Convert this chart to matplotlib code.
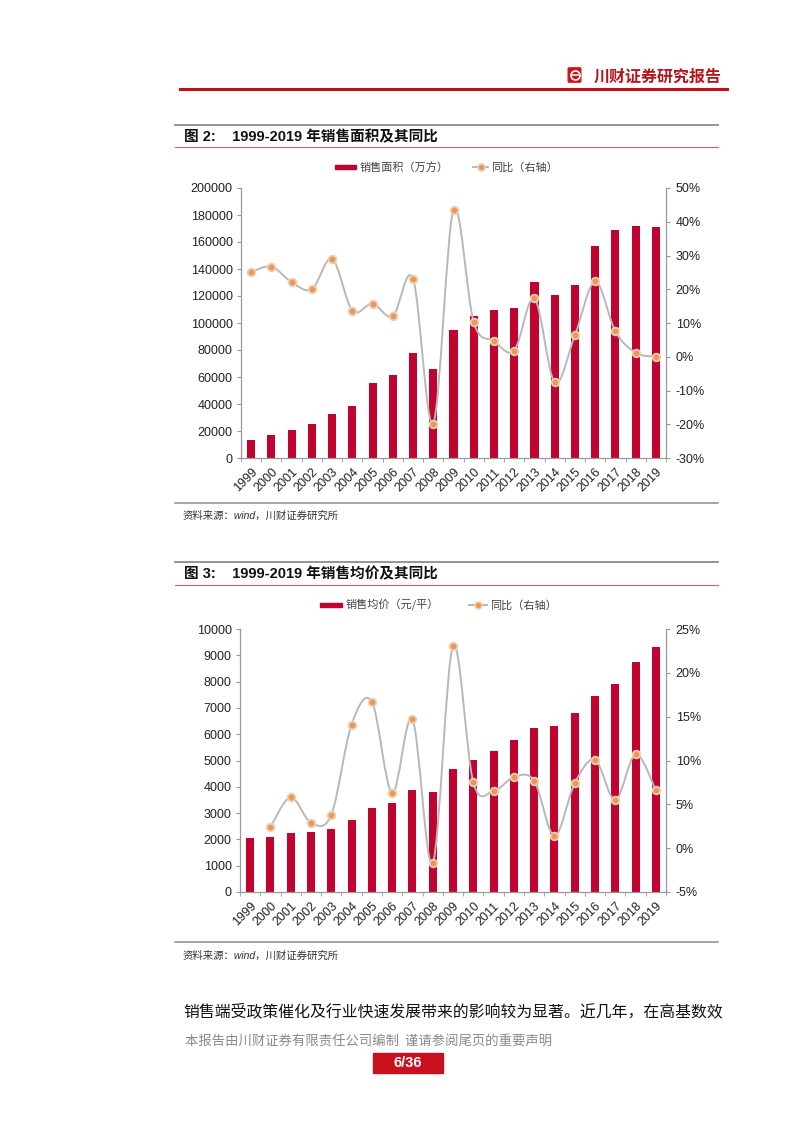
import matplotlib
matplotlib.use("Agg")
import matplotlib.pyplot as plt
from matplotlib.path import Path
from matplotlib.patches import PathPatch, Rectangle, FancyBboxPatch
from matplotlib.lines import Line2D
from matplotlib.ticker import FuncFormatter, MultipleLocator

plt.rcParams['font.family'] = ['Liberation Sans', 'Noto Sans CJK SC', 'DejaVu Sans']

# ---------------- data ----------------
years = [str(y) for y in range(1999, 2020)]

# Fig 2: sales area (10k m2) and yoy
area = [13000, 17200, 20900, 24900, 32500, 38200, 55400, 61600, 77500, 66200,
        94700, 105000, 109500, 111300, 130400, 120700, 128500, 157000, 169200,
        171600, 171100]
area_yoy = [25.1, 26.7, 22.1, 20.0, 29.0, 13.7, 15.7, 12.0, 23.1, -19.8,
            43.6, 10.2, 4.7, 1.8, 17.3, -7.6, 6.4, 22.3, 7.5, 1.2, 0.0]

# Fig 3: average price (yuan/m2) and yoy (no yoy for 1999)
price = [2060, 2110, 2240, 2290, 2390, 2720, 3190, 3370, 3870, 3810,
         4680, 5020, 5360, 5790, 6240, 6330, 6800, 7470, 7890, 8730, 9300]
price_yoy = [None, 2.4, 5.8, 2.9, 3.8, 14.1, 16.7, 6.3, 14.7, -1.7,
             23.1, 7.5, 6.5, 8.1, 7.7, 1.4, 7.4, 10.1, 5.5, 10.7, 6.6]

W, H = 802, 1133
BAR = "#C0042F"
LINE = "#B8B8B8"
CJK = ['Noto Sans CJK SC', 'DejaVu Sans']
MIX = ['Liberation Sans', 'Noto Sans CJK SC', 'DejaVu Sans']


def fx(x):
    return x / W


def fy(y):
    return 1 - y / H


fig = plt.figure(figsize=(W / 100, H / 100), dpi=100)
fig.patch.set_facecolor("white")


def hline(x0, x1, y, color, lw):
    fig.add_artist(Line2D([fx(x0), fx(x1)], [fy(y), fy(y)], color=color, lw=lw,
                          transform=fig.transFigure))


def smooth_path(xs, ys):
    # Catmull-Rom through the points, drawn as cubic Bezier segments
    verts = [(xs[0], ys[0])]
    codes = [Path.MOVETO]
    n = len(xs)
    for i in range(n - 1):
        a = i - 1 if i > 0 else i
        d = i + 2 if i + 2 < n else i + 1
        c1 = (xs[i] + (xs[i + 1] - xs[a]) / 6, ys[i] + (ys[i + 1] - ys[a]) / 6)
        c2 = (xs[i + 1] - (xs[d] - xs[i]) / 6, ys[i + 1] - (ys[d] - ys[i]) / 6)
        verts += [c1, c2, (xs[i + 1], ys[i + 1])]
        codes += [Path.CURVE4] * 3
    return Path(verts, codes)


def draw_chart(box, bars, yoy, lmax, lstep, rmin, rmax, rstep):
    left, top, right, bottom = box
    ax = fig.add_axes([fx(left), fy(bottom), fx(right) - fx(left), (bottom - top) / H])
    x = list(range(len(years)))
    ax.bar(x, bars, width=0.4, color=BAR, zorder=2)
    ax.set_xlim(-0.5, len(years) - 0.5)
    ax.set_ylim(0, lmax)
    ax.yaxis.set_major_locator(MultipleLocator(lstep))
    ax.set_xticks(x)
    ax.set_xticklabels(years, rotation=45, ha='right', rotation_mode='anchor')
    ax.set_xticks([i - 0.5 for i in range(len(years) + 1)], minor=True)
    ax.tick_params(axis='x', which='major', length=0, pad=6, labelsize=9, labelcolor='#222222')
    ax.tick_params(axis='x', which='minor', length=3, color='#999999')
    ax.tick_params(axis='y', length=3, color='#999999', labelsize=9, labelcolor='#222222', pad=3)
    for s in ['top', 'right']:
        ax.spines[s].set_visible(False)
    for s in ['left', 'bottom']:
        ax.spines[s].set_color('#999999')
        ax.spines[s].set_linewidth(0.9)

    ax2 = ax.twinx()
    ax2.set_ylim(rmin, rmax)
    ax2.yaxis.set_major_locator(MultipleLocator(rstep))
    ax2.yaxis.set_major_formatter(FuncFormatter(lambda v, p: f"{v:.0f}%"))
    ax2.tick_params(axis='y', length=3, color='#999999', labelsize=9, labelcolor='#222222', pad=4)
    for s in ['top', 'left', 'bottom']:
        ax2.spines[s].set_visible(False)
    ax2.spines['right'].set_color('#999999')
    ax2.spines['right'].set_linewidth(0.9)

    px = [i for i, v in zip(x, yoy) if v is not None]
    py = [v for v in yoy if v is not None]
    ax2.add_patch(PathPatch(smooth_path(px, py), fill=False, edgecolor=LINE, lw=1.4, zorder=3))
    ax2.plot(px, py, ls='none', marker='o', ms=5.5, mfc='#E8995A', mec='#F3CDB0', mew=1.3, zorder=4)
    ax2.set_xlim(-0.5, len(years) - 0.5)
    return ax, ax2


def title_block(y_gray, y_title, y_red, title):
    hline(175, 718, y_gray, '#8C8C8C', 1.3)
    fig.text(fx(184), fy(y_title), title, family=MIX, fontsize=10.5, fontweight='bold',
             color='#111111', va='center', ha='left')
    hline(175, 718, y_red, '#D4606E', 0.8)


def legend(y, rx0, rx1, label1, lx0, lx1, label2):
    fig.add_artist(Rectangle((fx(rx0), fy(y + 2)), fx(rx1) - fx(rx0), 4 / H, color=BAR,
                             transform=fig.transFigure))
    fig.text(fx(rx1 + 4), fy(y), label1, family=CJK, fontsize=8, color='#444444', va='center')
    fig.add_artist(Line2D([fx(lx0), fx(lx1)], [fy(y), fy(y)], color=LINE, lw=1.4,
                          transform=fig.transFigure))
    fig.add_artist(Line2D([fx((lx0 + lx1) / 2)], [fy(y)], ls='none', marker='o', ms=5,
                          mfc='#E8995A', mec='#F3CDB0', mew=1.2, transform=fig.transFigure))
    fig.text(fx(lx1 + 3), fy(y), label2, family=CJK, fontsize=8, color='#444444', va='center')


def source(y_line, y_text):
    hline(175, 718, y_line, '#8C8C8C', 1.1)
    fig.text(fx(183), fy(y_text), "资料来源：wind，川财证券研究所", family=MIX, fontsize=7.5,
             color='#333333', va='center', style='italic')


# ---------------- header ----------------
fig.add_artist(FancyBboxPatch((fx(569), fy(81)), fx(11), 12 / H,
                              boxstyle="round,pad=0.001", color='#D0121B',
                              transform=fig.transFigure))
fig.add_artist(Line2D([fx(574.5)], [fy(75)], ls='none', marker='o', ms=6.5, mfc='none',
                      mec='white', mew=1.2, transform=fig.transFigure))
fig.add_artist(Line2D([fx(571.5), fx(577.5)], [fy(75), fy(75)], color='white', lw=1.1,
                      transform=fig.transFigure))
fig.text(fx(594), fy(77), "川财证券研究报告", family=CJK, fontsize=11.5, fontweight='bold',
         color='#B8141E', va='center', ha='left')
hline(180, 727, 89, '#C0101A', 2.2)

# ---------------- figure 2 ----------------
title_block(125, 137, 147, "图 2:    1999-2019 年销售面积及其同比")
legend(167, 335, 356, "销售面积（万方）", 473, 488, "同比（右轴）")
draw_chart((241, 188, 666, 458), area, area_yoy, 200000, 20000, -30, 50, 10)
source(503, 516)

# ---------------- figure 3 ----------------
title_block(562, 574, 585, "图 3:    1999-2019 年销售均价及其同比")
legend(605, 320, 342, "销售均价（元/平）", 469, 487, "同比（右轴）")
draw_chart((240, 629, 666, 892), price, price_yoy, 10000, 1000, -5, 25, 5)
source(942, 956)

# ---------------- body / footer ----------------
fig.text(fx(183), fy(1012), "销售端受政策催化及行业快速发展带来的影响较为显著。近几年，在高基数效",
         family=CJK, fontsize=11.4, color='#111111', va='center')
fig.text(fx(185), fy(1042), "本报告由川财证券有限责任公司编制  谨请参阅尾页的重要声明",
         family=CJK, fontsize=9.6, color='#8A8A8A', va='center')
fig.add_artist(Rectangle((fx(373), fy(1073)), fx(70), 20 / H, color='#C8101E',
                         transform=fig.transFigure))
fig.text(fx(408), fy(1063), "6/36", family=MIX, fontsize=10.5, fontweight='bold',
         color='white', va='center', ha='center')

fig.savefig("out.png", dpi=100)
